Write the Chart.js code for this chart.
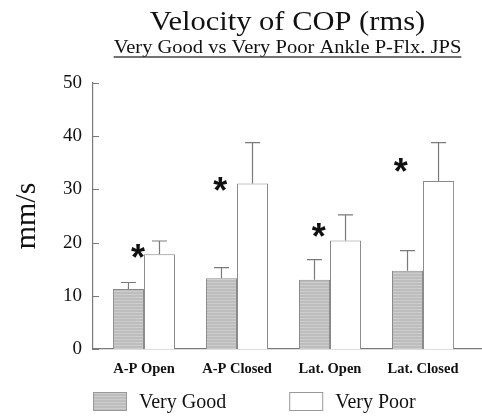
<!DOCTYPE html>
<html>
<head>
<meta charset="utf-8">
<title>Velocity of COP (rms)</title>
<script src="https://cdn.jsdelivr.net/npm/chart.js@4/dist/chart.umd.min.js"></script>
<style>
  html, body { margin: 0; padding: 0; background: #fff; }
  #wrap { width: 482px; height: 417px; }
</style>
</head>
<body>
<div id="wrap"><canvas id="cop" width="482" height="417"></canvas></div>
<script>
// values (mm/s)
const categories = ['A-P Open', 'A-P Closed', 'Lat. Open', 'Lat. Closed'];
const veryGood = [11.3, 13.3, 13.0, 14.7];
const veryGoodSd = [1.2, 2.0, 3.8, 3.8];
const veryPoor = [17.8, 31.1, 20.4, 31.6];
const veryPoorSd = [2.5, 7.7, 4.8, 7.2];
// significance marks: x in category units, y in mm/s
const starX = [-0.065, 0.82, 1.88, 2.76];
const starY = [18.5, 31.0, 22.3, 34.5];
const yTicks = [0, 10, 20, 30, 40, 50];

const SERIF = "'Liberation Serif', 'DejaVu Serif', serif";
const INK = '#111';
const LINE = '#7a7a7a';

function hatch() {
  const c = document.createElement('canvas');
  c.width = 4;
  c.height = 3;
  const g = c.getContext('2d');
  g.fillStyle = '#bdbdbd';
  g.fillRect(0, 0, 4, 3);
  g.fillStyle = '#cdcdcd';
  g.fillRect(0, 0, 4, 1);
  return g.createPattern(c, 'repeat');
}

const toPoints = (arr) => arr.map((v, i) => ({ x: i, y: v }));

const errorBars = {
  id: 'errorBars',
  afterDatasetsDraw(chart) {
    const { ctx } = chart;
    const y = chart.scales.y;
    const sds = [veryGoodSd, veryPoorSd];
    ctx.save();
    ctx.strokeStyle = LINE;
    ctx.lineWidth = 1.2;
    chart.data.datasets.forEach((ds, di) => {
      chart.getDatasetMeta(di).data.forEach((bar, i) => {
        const top = y.getPixelForValue(ds.data[i].y + sds[di][i]);
        ctx.beginPath();
        ctx.moveTo(bar.x, bar.y);
        ctx.lineTo(bar.x, top);
        ctx.moveTo(bar.x - 7.5, top);
        ctx.lineTo(bar.x + 7.5, top);
        ctx.stroke();
      });
    });
    ctx.restore();
  },
};

const stars = {
  id: 'stars',
  afterDatasetsDraw(chart) {
    const { ctx, scales } = chart;
    ctx.save();
    ctx.fillStyle = INK;
    ctx.font = "bold 36px 'Liberation Sans', sans-serif";
    ctx.textAlign = 'center';
    ctx.textBaseline = 'alphabetic';
    const m = ctx.measureText('*');
    const shift = (m.actualBoundingBoxAscent - m.actualBoundingBoxDescent) / 2;
    starX.forEach((sx, i) => {
      ctx.fillText('*', scales.x.getPixelForValue(sx), scales.y.getPixelForValue(starY[i]) + shift);
    });
    ctx.restore();
  },
};

const innerTicks = {
  id: 'innerTicks',
  afterDraw(chart) {
    const { ctx, chartArea } = chart;
    const y = chart.scales.y;
    ctx.save();
    ctx.strokeStyle = LINE;
    ctx.lineWidth = 1;
    yTicks.forEach((t) => {
      const py = Math.round(y.getPixelForValue(t)) + 0.5;
      ctx.beginPath();
      ctx.moveTo(chartArea.left, py);
      ctx.lineTo(chartArea.left + 6, py);
      ctx.stroke();
    });
    ctx.restore();
  },
};

// the scanned lettering is a little wider than the face, so stretch it sideways
function wideText(ctx, text, cx, y, sx) {
  ctx.save();
  ctx.translate(cx, y);
  ctx.scale(sx, 1);
  ctx.fillText(text, 0, 0);
  ctx.restore();
  return ctx.measureText(text).width * sx;
}

const heading = {
  id: 'heading',
  afterDraw(chart) {
    const { ctx, chartArea } = chart;
    const cx = (chartArea.left + chartArea.right) / 2;
    ctx.save();
    ctx.fillStyle = INK;
    ctx.textAlign = 'center';
    ctx.textBaseline = 'alphabetic';
    ctx.font = `27px ${SERIF}`;
    wideText(ctx, 'Velocity of COP (rms)', cx, 29.5, 1.13);
    const sub = 'Very Good vs Very Poor Ankle P-Flx. JPS';
    ctx.font = `19px ${SERIF}`;
    const w = wideText(ctx, sub, cx, 52.5, 1.08);
    ctx.strokeStyle = '#444';
    ctx.lineWidth = 1.3;
    ctx.beginPath();
    ctx.moveTo(cx - w / 2, 57);
    ctx.lineTo(cx + w / 2, 57);
    ctx.stroke();
    ctx.restore();
  },
};

const legendRow = {
  id: 'legendRow',
  afterDraw(chart) {
    const { ctx, chartArea } = chart;
    ctx.save();
    ctx.font = `20px ${SERIF}`;
    ctx.textBaseline = 'middle';
    ctx.textAlign = 'left';
    let x = chartArea.left;
    const top = 392;
    chart.data.datasets.forEach((ds) => {
      ctx.fillStyle = ds.backgroundColor;
      ctx.fillRect(x, top, 34, 19);
      ctx.strokeStyle = '#999';
      ctx.lineWidth = 1;
      ctx.strokeRect(x + 0.5, top + 0.5, 33, 18);
      ctx.fillStyle = INK;
      ctx.fillText(ds.label, x + 46, top + 11);
      x += 46 + ctx.measureText(ds.label).width + 63;
    });
    ctx.restore();
  },
};

new Chart(document.getElementById('cop'), {
  type: 'bar',
  data: {
    datasets: [
      {
        label: 'Very Good',
        data: toPoints(veryGood),
        backgroundColor: hatch(),
        borderColor: '#8a8a8a',
        borderWidth: 1,
      },
      {
        label: 'Very Poor',
        data: toPoints(veryPoor),
        backgroundColor: '#ffffff',
        borderColor: '#8a8a8a',
        borderWidth: 1,
      },
    ],
  },
  options: {
    responsive: false,
    devicePixelRatio: 1,
    animation: false,
    categoryPercentage: 0.667,
    barPercentage: 1.0,
    layout: { padding: { top: 83, bottom: 36, left: 0, right: 0 } },
    plugins: {
      legend: { display: false },
      tooltip: { enabled: false },
    },
    scales: {
      x: {
        type: 'linear',
        offset: false,
        min: -0.548,
        max: 3.634,
        afterBuildTicks: (s) => {
          s.ticks = categories.map((c, i) => ({ value: i }));
        },
        afterFit: (s) => {
          s.height = 32;
        },
        ticks: {
          padding: 12,
          color: INK,
          autoSkip: false,
          maxRotation: 0,
          minRotation: 0,
          font: { family: SERIF, size: 14.5, weight: 'bold' },
          callback: (v) => categories[v],
        },
        grid: { display: false, drawTicks: false },
        border: { display: true, color: LINE, width: 1.2 },
      },
      y: {
        min: 0,
        max: 50,
        afterBuildTicks: (s) => {
          s.ticks = yTicks.map((v) => ({ value: v }));
        },
        afterFit: (s) => {
          s.width = 93;
        },
        ticks: {
          padding: 11,
          color: INK,
          font: { family: SERIF, size: 19 },
        },
        grid: { display: false, drawTicks: false },
        border: { display: true, color: LINE, width: 1.2 },
        title: {
          display: true,
          text: 'mm/s',
          color: INK,
          font: { family: SERIF, size: 30, lineHeight: 1.2 },
          padding: { top: 9, bottom: 0 },
        },
      },
    },
  },
  plugins: [errorBars, stars, innerTicks, heading, legendRow],
});
</script>
</body>
</html>
